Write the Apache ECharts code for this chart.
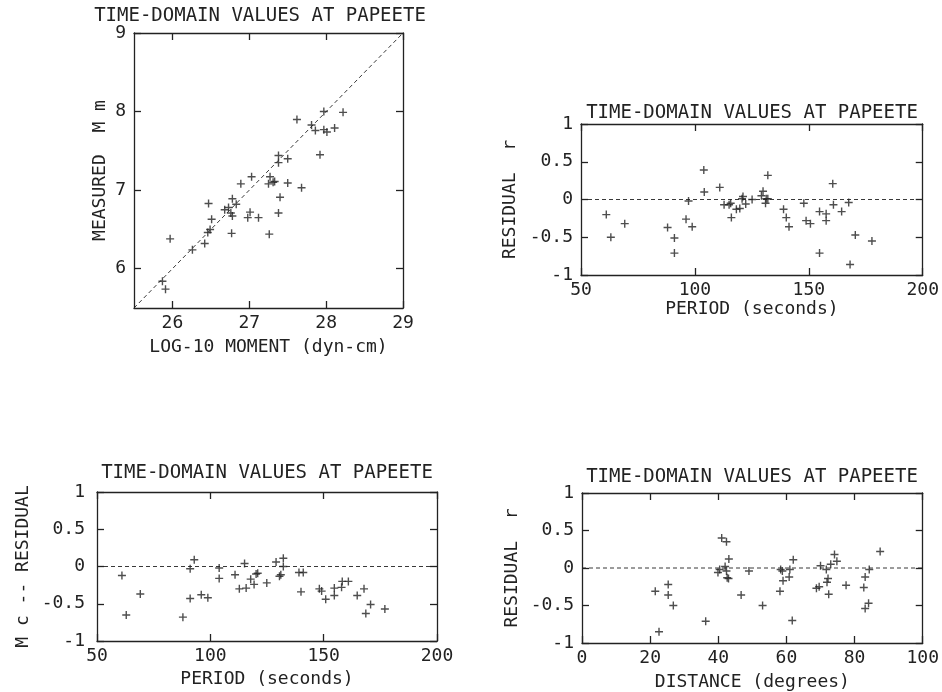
<!DOCTYPE html>
<html>
<head>
<meta charset="utf-8">
<script src="https://cdn.jsdelivr.net/npm/echarts@6/dist/echarts.min.js"></script>
<style>
html, body { margin: 0; padding: 0; background: #fff; }
#chart { width: 942px; height: 692px; }
</style>
</head>
<body>
<div id="chart"></div>
<script>
// panel 1 : measured vs log moment
const momentX = [25.87, 25.91, 25.97, 26.26, 26.42, 26.46, 26.47, 26.49, 26.51, 26.68, 26.73, 26.76, 26.78, 26.78, 26.83, 26.77, 26.89, 27.03, 26.98, 27.01, 27.12, 27.26, 27.25, 27.27, 27.31, 27.33, 27.38, 27.38, 27.38, 27.40, 27.50, 27.50, 27.68, 27.62, 27.81, 27.86, 27.92, 27.97, 27.97, 28.01, 28.11, 28.22]
const measuredM = [5.84, 5.74, 6.38, 6.24, 6.32, 6.46, 6.83, 6.50, 6.63, 6.75, 6.78, 6.71, 6.89, 6.67, 6.82, 6.45, 7.08, 7.17, 6.65, 6.72, 6.65, 6.44, 7.08, 7.17, 7.10, 7.11, 7.44, 7.35, 6.71, 6.91, 7.40, 7.09, 7.03, 7.90, 7.83, 7.76, 7.45, 8.00, 7.77, 7.74, 7.79, 7.99]
const diagonal = [[25.5, 5.5], [29, 9]]

// panel 2 : residual r vs period
const periodR = [61.1, 63.1, 69.2, 88.0, 91.0, 91.0, 96.1, 97.2, 98.8, 103.9, 104.1, 110.9, 112.8, 115.0, 116.0, 115.7, 118.2, 119.7, 120.7, 121.1, 122.3, 125.1, 129.2, 129.9, 131.0, 131.3, 132.0, 132.0, 138.9, 140.1, 141.3, 147.8, 148.8, 150.7, 154.7, 154.7, 157.6, 157.6, 160.5, 160.8, 164.4, 167.5, 168.1, 170.4, 177.7]
const residR = [-0.20, -0.50, -0.32, -0.37, -0.51, -0.71, -0.26, -0.02, -0.36, 0.39, 0.10, 0.16, -0.07, -0.07, -0.24, -0.05, -0.13, -0.12, 0.01, 0.04, -0.06, 0.00, 0.05, 0.11, -0.05, 0.01, 0.32, 0.01, -0.13, -0.24, -0.36, -0.05, -0.28, -0.32, -0.16, -0.71, -0.19, -0.28, 0.21, -0.07, -0.16, -0.04, -0.86, -0.47, -0.55]
const zeroPeriod = [[50, 0], [200, 0]]

// panel 3 : Mc residual vs period
const periodC = [61.0, 62.9, 69.1, 87.9, 91.1, 91.1, 92.9, 96.0, 98.9, 103.9, 103.9, 110.9, 112.8, 115.1, 115.8, 117.8, 119.3, 120.2, 120.9, 124.9, 129.0, 130.5, 131.1, 132.2, 132.2, 139.1, 141.0, 140.0, 148.1, 149.1, 150.9, 154.7, 154.7, 157.9, 158.2, 160.9, 164.8, 167.8, 168.6, 170.7, 177.0]
const residC = [-0.12, -0.65, -0.37, -0.68, -0.03, -0.43, 0.09, -0.38, -0.42, -0.02, -0.16, -0.11, -0.30, 0.04, -0.29, -0.17, -0.24, -0.10, -0.09, -0.22, 0.06, -0.13, -0.11, 0.11, 0.00, -0.08, -0.08, -0.34, -0.30, -0.33, -0.44, -0.29, -0.39, -0.28, -0.20, -0.20, -0.39, -0.30, -0.63, -0.51, -0.57]

// panel 4 : residual r vs distance
const distance = [21.5, 22.6, 25.3, 25.3, 26.8, 36.3, 39.9, 40.4, 41.0, 42.4, 42.0, 42.4, 42.6, 43.0, 43.1, 46.7, 49.0, 53.0, 58.1, 58.3, 58.8, 59.0, 60.8, 61.0, 61.7, 62.0, 68.8, 69.6, 70.0, 71.7, 71.9, 72.2, 72.4, 73.0, 74.1, 74.8, 77.5, 82.7, 83.1, 83.1, 84.1, 84.3, 87.5]
const residD = [-0.31, -0.85, -0.22, -0.36, -0.50, -0.71, -0.06, -0.02, 0.40, 0.35, 0.02, -0.04, -0.13, -0.14, 0.12, -0.36, -0.04, -0.50, -0.31, -0.02, -0.04, -0.17, -0.12, -0.02, -0.70, 0.11, -0.27, -0.25, 0.03, -0.02, -0.19, -0.14, -0.35, 0.05, 0.18, 0.09, -0.23, -0.26, -0.12, -0.54, -0.47, -0.02, 0.22]
const zeroDistance = [[0, 0], [100, 0]]

// tick labels
const momentTicks = [26, 27, 28, 29]
const measuredTicks = [6, 7, 8, 9]
const periodTicks = [50, 100, 150, 200]
const distanceTicks = [0, 20, 40, 60, 80, 100]
const residTicks = [-1, -0.5, 0, 0.5, 1]

const title = 'TIME-DOMAIN VALUES AT PAPEETE'
const ink = '#222'
const font = 'DejaVu Sans Mono'

function pairs(xs, ys) {
  return xs.map((x, i) => [x, ys[i]])
}

// one side of the box; the labelled side carries the name, the opposite side only ticks
function boxAxis(grid, min, max, ticks, position, name, gap, margin) {
  const labelled = name !== undefined
  const axis = {
    gridIndex: grid, type: 'value', min: min, max: max, position: position,
    splitLine: {show: false},
    axisLine: {show: true, onZero: false, lineStyle: {color: ink, width: 1.3}},
    axisTick: {show: true, inside: true, length: 7, customValues: ticks.slice(), lineStyle: {color: ink, width: 1.3}},
    axisLabel: labelled
      ? {customValues: ticks.slice(), color: ink, fontSize: 18, fontFamily: font, margin: margin}
      : {show: false}
  }
  if (labelled) {
    axis.name = name
    axis.nameLocation = 'middle'
    axis.nameGap = gap
    axis.nameTextStyle = {color: ink, fontSize: 18, fontFamily: font}
  }
  return axis
}

function scatter(grid, data) {
  return {
    type: 'scatter',
    xAxisIndex: grid * 2,
    yAxisIndex: grid * 2,
    data: data,
    symbol: 'path://M0,5L10,5M5,0L5,10',
    symbolSize: 8,
    itemStyle: {color: 'rgba(0,0,0,0)', borderColor: ink, borderWidth: 1.4}
  }
}

function dashed(grid, data) {
  return {
    type: 'line',
    xAxisIndex: grid * 2,
    yAxisIndex: grid * 2,
    data: data,
    showSymbol: false,
    silent: true,
    lineStyle: {color: ink, type: [4, 3], width: 0.9}
  }
}

let chart = undefined

function initChart() {
  chart = echarts.init(document.getElementById('chart'))

  const titleAt = (x, y) => ({
    text: title, left: x, top: y, textAlign: 'center', padding: 0,
    textStyle: {color: ink, fontSize: 19, fontWeight: 'normal', fontFamily: font}
  })

  const option = {
    animation: false,
    title: [titleAt(260, 7), titleAt(752, 104), titleAt(267, 464), titleAt(752, 468)],
    grid: [
      {left: 134, top: 33, width: 269, height: 275},
      {left: 581, top: 124, width: 344, height: 151},
      {left: 97, top: 492, width: 340, height: 149},
      {left: 582, top: 493, width: 344, height: 150}
    ],
    xAxis: [
      boxAxis(0, 25.5, 29, momentTicks, 'bottom', 'LOG-10 MOMENT (dyn-cm)', 30, 6),
      boxAxis(0, 25.5, 29, momentTicks, 'top'),
      boxAxis(1, 50, 200, periodTicks, 'bottom', 'PERIOD (seconds)', 24, 6),
      boxAxis(1, 50, 200, periodTicks, 'top'),
      boxAxis(2, 50, 200, periodTicks, 'bottom', 'PERIOD (seconds)', 29, 6),
      boxAxis(2, 50, 200, periodTicks, 'top'),
      boxAxis(3, 0, 100, distanceTicks, 'bottom', 'DISTANCE (degrees)', 30, 6),
      boxAxis(3, 0, 100, distanceTicks, 'top')
    ],
    yAxis: [
      boxAxis(0, 5.5, 9, measuredTicks, 'left', 'MEASURED  M m', 25, 8),
      boxAxis(0, 5.5, 9, measuredTicks, 'right'),
      boxAxis(1, -1, 1, residTicks, 'left', 'RESIDUAL  r', 62, 8),
      boxAxis(1, -1, 1, residTicks, 'right'),
      boxAxis(2, -1, 1, residTicks, 'left', 'M c -- RESIDUAL', 65, 12),
      boxAxis(2, -1, 1, residTicks, 'right'),
      boxAxis(3, -1, 1, residTicks, 'left', 'RESIDUAL  r', 61, 8),
      boxAxis(3, -1, 1, residTicks, 'right')
    ],
    series: [
      dashed(0, diagonal),
      dashed(1, zeroPeriod),
      dashed(2, zeroPeriod),
      dashed(3, zeroDistance),
      scatter(0, pairs(momentX, measuredM)),
      scatter(1, pairs(periodR, residR)),
      scatter(2, pairs(periodC, residC)),
      scatter(3, pairs(distance, residD))
    ]
  }

  chart.setOption(option)
}

initChart()
</script>
</body>
</html>
